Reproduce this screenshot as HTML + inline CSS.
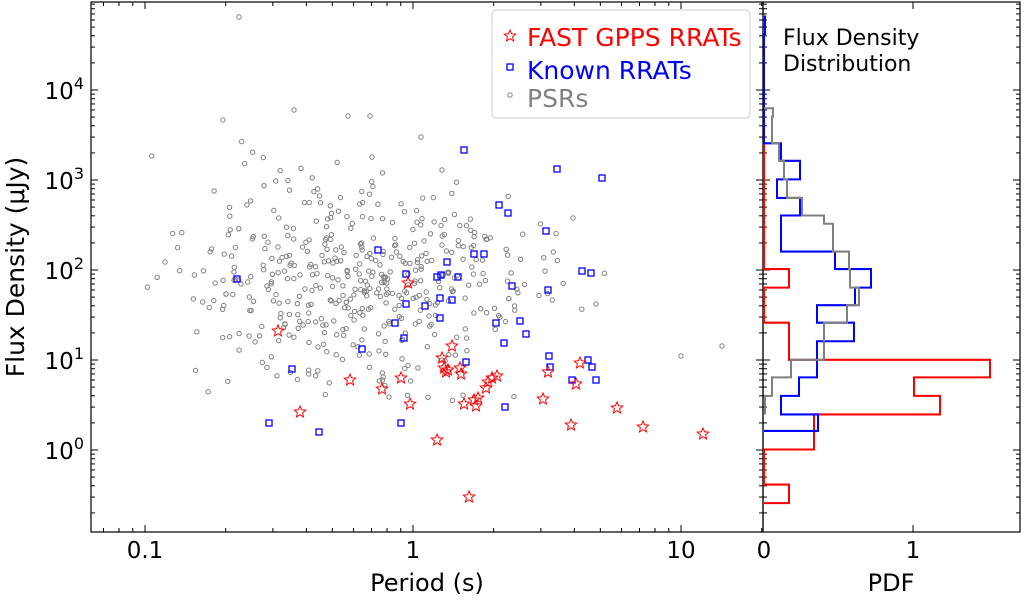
<!DOCTYPE html>
<html><head><meta charset="utf-8"><style>
html,body{margin:0;padding:0;background:#fff;width:1024px;height:599px;overflow:hidden}
text{font-family:"DejaVu Sans","Liberation Sans",sans-serif}
</style></head><body>
<svg id="s" width="1024" height="599" xmlns="http://www.w3.org/2000/svg">
<g id="gray" fill="none" stroke="#808080" stroke-width="1"></g>
<g id="blue" fill="none" stroke="#0000ff" stroke-width="1.3"></g>
<g id="red" fill="none" stroke="#ff0000" stroke-width="1"></g>
<g id="ticks" stroke="#000" stroke-width="1"></g>
<rect x="91" y="2" width="672" height="530" fill="none" stroke="#000" stroke-width="1.2"/>
<rect x="763" y="2" width="257" height="530" fill="none" stroke="#000" stroke-width="1.2"/>
<g transform="matrix(1,0,0,1.031,0,0)">
<polyline fill="none" stroke="#ff0000" stroke-width="2" points="764,139 764,261 789,261 789,279 764,279 764,313 789,313 789,349 990,349 990,366 914,366 914,384 940,384 940,402 814,402 814,436 764,436 764,470 789,470 789,488 764,488"/>
<polyline fill="none" stroke="#0000ff" stroke-width="2" points="765,15 765,33 764,33 764,105 764,139 781,139 781,156 800,156 800,174 777,174 777,192 800,192 800,209 781,209 781,244 835,244 835,261 871,261 871,279 855,279 855,296 817,296 817,313 854,313 854,331 817,331 817,366 799,366 799,384 781,384 781,402 818,402 818,418 764,418"/>
<polyline fill="none" stroke="#808080" stroke-width="2" points="764,105 773,105 773,113 772,113 772,139 779,139 779,156 784,156 784,174 787,174 787,192 802,192 802,209 824,209 824,217 833,217 833,244 849,244 849,261 850,261 850,279 859,279 859,296 847,296 847,313 824,313 824,349 791,349 791,366 772,366 772,384 765,384 765,402"/>
</g>
<text x="783" y="45" font-size="22">Flux Density</text>
<text x="783" y="71" font-size="22">Distribution</text>
<rect x="492" y="10" width="258" height="108" rx="4" fill="#fff" fill-opacity="0.9" stroke="#ccc"/>
<text x="527" y="46" font-size="25" fill="#ff0000">FAST GPPS RRATs</text>
<text x="527" y="79" font-size="25" fill="#0000ff">Known RRATs</text>
<text x="527" y="107" font-size="25" fill="#808080">PSRs</text>
<g id="leg"></g>
<g font-size="23" text-anchor="middle">
<text x="145" y="558">0.1</text><text x="413" y="558">1</text><text x="681" y="558">10</text>
<text x="764" y="558">0</text><text x="913" y="558">1</text>
<text x="427" y="591" font-size="24">Period (s)</text>
<text x="891" y="591" font-size="24">PDF</text>
</g>
<g font-size="23" text-anchor="end">
<text x="84" y="459">10<tspan font-size="16" dy="-10">0</tspan></text>
<text x="84" y="369">10<tspan font-size="16" dy="-10">1</tspan></text>
<text x="84" y="279">10<tspan font-size="16" dy="-10">2</tspan></text>
<text x="84" y="189">10<tspan font-size="16" dy="-10">3</tspan></text>
<text x="84" y="99">10<tspan font-size="16" dy="-10">4</tspan></text>
</g>
<text transform="translate(24,267) rotate(-90)" font-size="25" text-anchor="middle">Flux Density (μJy)</text>
</svg>
<script>
var NS="http://www.w3.org/2000/svg";
function el(p,t,a){var e=document.createElementNS(NS,t);for(var k in a)e.setAttribute(k,a[k]);document.getElementById(p).appendChild(e);}
function star(x,y,r){var p=[];for(var i=0;i<10;i++){var a=-Math.PI/2+i*Math.PI/5,rr=i%2?r*0.45:r;p.push((x+rr*Math.cos(a)).toFixed(1)+","+(y+rr*Math.sin(a)).toFixed(1));}return p.join(" ");}
var seed=11;function rnd(){seed=(seed*16807)%2147483647;return seed/2147483647;}
function g(){return Math.sqrt(-2*Math.log(rnd()+1e-9))*Math.cos(2*Math.PI*rnd());}
var n=0;while(n<470){var x=360+g()*95,y=283+g()*55;if(x<143||x>605||y<108||y>405)continue;el("gray","circle",{cx:x.toFixed(1),cy:y.toFixed(1),r:2.2});n++;}
[[239,17],[681,356],[722,346],[223,120],[294,110],[348,116],[370,116],[421,137],[442,170],[573,218],[596,304]].forEach(function(p){el("gray","circle",{cx:p[0],cy:p[1],r:2.2});});
var B=[[237,279],[269,423],[292,369],[319,432],[362,349],[378,250],[395,323],[401,423],[404,338],[406,274],[406,304],[425,306],[437,277],[440,298],[440,318],[441,275],[447,262],[452,300],[458,277],[464,150],[466,362],[474,254],[484,254],[496,323],[499,205],[504,343],[505,407],[508,213],[512,286],[520,321],[526,334],[546,231],[548,290],[550,367],[557,169],[582,271],[591,273],[588,360],[596,380],[592,367],[572,380],[602,178],[549,356]];
B.forEach(function(p){el("blue","rect",{x:p[0]-3,y:p[1]-3,width:6,height:6});});
el("leg","rect",{x:507,y:64,width:6,height:6,fill:"none",stroke:"#0000ff","stroke-width":1.3});
el("leg","circle",{cx:510,cy:95,r:2.2,fill:"none",stroke:"#808080"});
el("leg","polygon",{points:star(510,36,6),fill:"none",stroke:"#ff0000"});
var R=[[278,331],[300,412],[350,380],[382,389],[401,378],[410,404],[408,283],[437,440],[442,358],[444,368],[446,372],[448,370],[452,346],[460,368],[461,374],[464,404],[469,497],[474,400],[476,406],[478,398],[486,388],[488,382],[492,378],[497,376],[543,399],[548,372],[576,384],[571,425],[580,363],[617,408],[643,427],[703,434]];
R.forEach(function(p){el("red","polygon",{points:star(p[0],p[1],6)});});
function L(x1,y1,x2,y2){el("ticks","line",{x1:x1,y1:y1,x2:x2,y2:y2});}
for(var d=-2;d<=1;d++){for(var m=1;m<10;m++){var x=145+268*(d+1+Math.log10(m));if(x<91||x>763)continue;var l=m==1?7:4;L(x,532,x,532-l);L(x,2,x,2+l);}}
for(var d=-1;d<=4;d++){for(var m=1;m<10;m++){var y=450-90*(d+Math.log10(m));if(y<2||y>532)continue;var l=m==1?7:4;L(91,y,91+l,y);L(763,y,763-l,y);L(763,y,763+l,y);L(1020,y,1020-l,y);}}
L(913,532,913,525);L(913,2,913,9);
</script>
</body></html>
